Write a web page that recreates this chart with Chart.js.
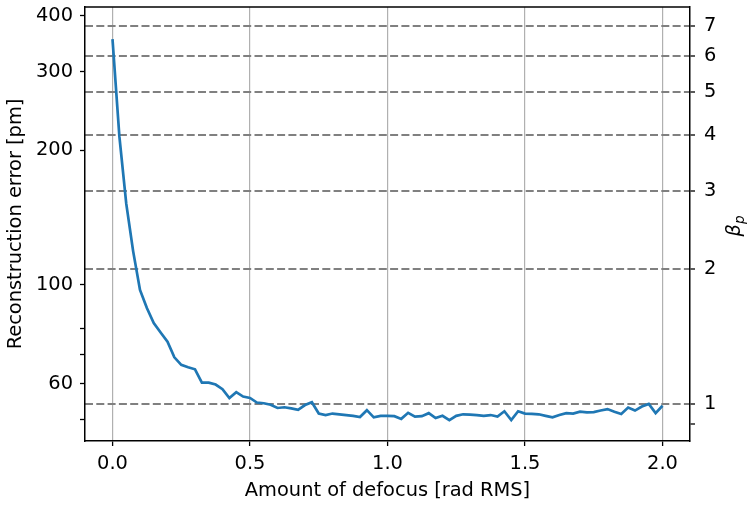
<!DOCTYPE html>
<html>
<head>
<meta charset="utf-8">
<script src="https://cdn.jsdelivr.net/npm/chart.js@4.4.1/dist/chart.umd.min.js"></script>
<style>
  html, body { margin: 0; padding: 0; background: #fff; }
</style>
</head>
<body>
<canvas id="defocus-chart" width="747" height="505"></canvas>
<script>
// amount of defocus [rad RMS]
const defocus = [
  0, 0.025, 0.05, 0.075, 0.1, 0.125, 0.15, 0.175, 0.2, 0.225,
  0.25, 0.275, 0.3, 0.325, 0.35, 0.375, 0.4, 0.425, 0.45, 0.475,
  0.5, 0.525, 0.55, 0.575, 0.6, 0.625, 0.65, 0.675, 0.7, 0.725,
  0.75, 0.775, 0.8, 0.825, 0.85, 0.875, 0.9, 0.925, 0.95, 0.975,
  1, 1.025, 1.05, 1.075, 1.1, 1.125, 1.15, 1.175, 1.2, 1.225,
  1.25, 1.275, 1.3, 1.325, 1.35, 1.375, 1.4, 1.425, 1.45, 1.475,
  1.5, 1.525, 1.55, 1.575, 1.6, 1.625, 1.65, 1.675, 1.7, 1.725,
  1.75, 1.775, 1.8, 1.825, 1.85, 1.875, 1.9, 1.925, 1.95, 1.975,
  2,
]

// reconstruction error [pm]
const reconError = [
  355, 215, 152, 119, 97.4, 88.7, 82.1, 78.2, 74.6, 68.8,
  66.2, 65.4, 64.7, 60.4, 60.4, 59.8, 58.4, 55.8, 57.5, 56.2,
  55.8, 54.5, 54.3, 53.9, 53.0, 53.2, 52.9, 52.5, 53.8, 54.6,
  51.5, 51.1, 51.5, 51.3, 51.1, 50.9, 50.6, 52.4, 50.5, 50.9,
  50.9, 50.8, 50.1, 51.7, 50.7, 50.8, 51.6, 50.3, 50.9, 49.8,
  50.9, 51.3, 51.2, 51.1, 50.9, 51.1, 50.7, 52.1, 49.8, 52.1,
  51.5, 51.4, 51.3, 50.9, 50.5, 51.1, 51.6, 51.5, 52.0, 51.8,
  51.9, 52.3, 52.7, 52.0, 51.4, 53.1, 52.3, 53.4, 54.1, 51.6,
  53.6,
]

const defocusTicks = [0, 0.5, 1, 1.5, 2]
const errorTicks = [60, 100, 200, 300, 400]
const errorMinorTicks = [50, 70, 80]
const betaTicks = [1, 2, 3, 4, 5, 6, 7]
const betaMinorTicks = [0.9]

// error [pm] that corresponds to beta_p = 1
const betaUnit = 54.15
const errMin = 44.7
const errMax = 419

const fontSize = 19.4
Chart.defaults.font.family = "'DejaVu Sans', sans-serif"
Chart.defaults.font.size = fontSize
Chart.defaults.color = "#000"

const toTicks = (values) => values.slice().sort((a, b) => a - b).map((v) => ({ value: v }))

const noPadding = (scale) => {
  scale.paddingTop = 0
  scale.paddingBottom = 0
  scale.paddingLeft = 0
  scale.paddingRight = 0
}

// closes the frame and writes the beta_p label on the right
const framePlugin = {
  id: "frame",
  afterDraw(chart) {
    const { ctx, chartArea } = chart
    ctx.save()
    ctx.strokeStyle = "#000"
    ctx.lineWidth = 1.5
    ctx.beginPath()
    ctx.moveTo(chartArea.left, chartArea.top)
    ctx.lineTo(chartArea.right, chartArea.top)
    ctx.stroke()

    ctx.translate(740, 226)
    ctx.rotate(-Math.PI / 2)
    ctx.fillStyle = "#000"
    ctx.textBaseline = "alphabetic"
    ctx.textAlign = "left"
    const big = `italic ${fontSize}px 'DejaVu Sans'`
    const small = `italic ${fontSize * 0.7}px 'DejaVu Sans'`
    ctx.font = big
    const wB = ctx.measureText("β").width
    ctx.font = small
    const wP = ctx.measureText("p").width
    const x0 = -(wB + wP) / 2
    ctx.font = big
    ctx.fillText("β", x0, 0)
    ctx.font = small
    ctx.fillText("p", x0 + wB, 4)
    ctx.restore()
  },
}

new Chart(document.getElementById("defocus-chart"), {
  type: "line",
  data: {
    datasets: [
      {
        data: defocus.map((x, i) => ({ x, y: reconError[i] })),
        borderColor: "#1f77b4",
        borderWidth: 2.7,
        pointRadius: 0,
        tension: 0,
        fill: false,
        yAxisID: "y",
      },
    ],
  },
  options: {
    responsive: false,
    animation: false,
    devicePixelRatio: 1,
    layout: { padding: { top: 7, left: 0, right: 0, bottom: 0 } },
    plugins: {
      legend: { display: false },
      tooltip: { enabled: false },
    },
    scales: {
      x: {
        type: "linear",
        position: "bottom",
        min: -0.1,
        max: 2.1,
        afterBuildTicks: (s) => { s.ticks = toTicks(defocusTicks) },
        afterFit: (s) => { s.height = 64; noPadding(s) },
        ticks: {
          autoSkip: false,
          maxRotation: 0,
          padding: 6,
          callback: (v) => Number(v).toFixed(1),
        },
        grid: {
          color: "#b0b0b0",
          lineWidth: 1.2,
          tickColor: "#000",
          tickLength: 5,
          tickWidth: 1.3,
        },
        border: { color: "#000", width: 1.5 },
        title: {
          display: true,
          text: "Amount of defocus [rad RMS]",
          padding: { top: 0, bottom: 2 },
        },
      },
      y: {
        type: "logarithmic",
        position: "left",
        min: errMin,
        max: errMax,
        afterBuildTicks: (s) => { s.ticks = toTicks(errorTicks.concat(errorMinorTicks)) },
        afterFit: (s) => { s.width = 85; noPadding(s) },
        ticks: {
          autoSkip: false,
          padding: 7,
          callback: (v) => (errorTicks.includes(v) ? String(v) : ""),
        },
        grid: {
          drawOnChartArea: false,
          tickColor: "#000",
          tickLength: 5,
          tickWidth: 1.3,
        },
        border: { color: "#000", width: 1.5 },
        title: {
          display: true,
          text: "Reconstruction error [pm]",
          padding: { top: 4, bottom: 0 },
        },
      },
      beta: {
        type: "logarithmic",
        position: "right",
        display: true,
        min: errMin / betaUnit,
        max: errMax / betaUnit,
        afterBuildTicks: (s) => { s.ticks = toTicks(betaTicks.concat(betaMinorTicks)) },
        afterFit: (s) => { s.width = 57; noPadding(s) },
        ticks: {
          autoSkip: false,
          padding: 9,
          callback: (v) => (betaTicks.includes(v) ? String(v) : ""),
        },
        grid: {
          drawOnChartArea: true,
          color: (c) => (c.tick && betaTicks.includes(c.tick.value) ? "#808080" : "rgba(0,0,0,0)"),
          lineWidth: 2,
          tickColor: "#000",
          tickLength: 5,
          tickWidth: 1.3,
        },
        border: { color: "#000", width: 1.5, dash: [8, 3.3] },
        title: { display: false },
      },
    },
  },
  plugins: [framePlugin],
})
</script>
</body>
</html>
